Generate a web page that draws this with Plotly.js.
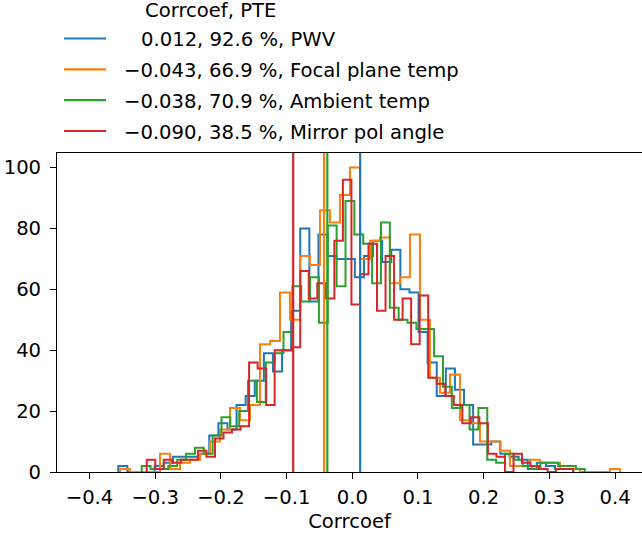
<!DOCTYPE html>
<html><head><meta charset="utf-8">
<script src="https://cdn.plot.ly/plotly-3.0.1.min.js"></script>
<style>html,body{margin:0;padding:0;background:#fff;overflow:hidden}</style>
</head><body><div id="chart" style="width:642px;height:533px"></div>
<script>
// ---- data ----
const seriesNames = ['PWV', 'Focal plane temp', 'Ambient temp', 'Mirror pol angle'];
const corrcoef = [0.012, -0.043, -0.038, -0.090];
const pte = [92.6, 66.9, 70.9, 38.5];
const colors = ['#1f77b4', '#ff7f0e', '#2ca02c', '#d62728'];
// histogram binning (50 bins per series): first edge and bin width
const binStart = [-0.3562, -0.3536, -0.3205, -0.3129];
const binWidth = [0.01385, 0.01522, 0.013486, 0.012983];
const countsPWV = [2,0,0,0,2,3,5,5,5,6,12,16,14,22,25,30,39,33,40,53,80,56,78,71,70,70,64,71,76,69,73,60,59,46,36,25,34,27,22,9,9,10,6,5,4,1,3,2,1,1];
const countsFocal = [1,0,0,0,6,1,3,4,6,10,14,21,17,22,42,43,59,50,71,68,86,82,91,100,70,76,77,62,64,78,50,31,26,32,17,16,10,10,7,2,2,4,3,3,1,1,0,0,0,1];
const countsAmbient = [2,1,1,2,4,6,8,6,12,18,15,20,30,23,36,39,46,61,56,64,49,81,61,89,78,75,62,82,54,50,49,47,47,38,28,21,22,14,21,4,3,6,4,2,1,3,3,2,2,1];
const countsMirror = [4,1,4,3,4,4,7,5,11,13,14,15,36,34,22,40,40,41,66,57,62,57,76,96,55,65,75,53,71,50,57,42,58,31,29,25,22,16,18,16,6,5,0,6,3,2,1,0,1,1];
const allCounts = [countsPWV, countsFocal, countsAmbient, countsMirror];
const xTickVals = [-0.4,-0.3,-0.2,-0.1,0,0.1,0.2,0.3,0.4];
const yTickVals = [0,20,40,60,80,100];

// ---- build step traces ----
const traces = allCounts.map((counts, s) => {
  const edges = counts.map((_, i) => binStart[s] + i * binWidth[s]);
  edges.push(binStart[s] + counts.length * binWidth[s]);
  const xs = [edges[0]].concat(edges);
  const ys = [0].concat(counts).concat([0]);
  return {
    type: 'scatter', mode: 'lines', x: xs, y: ys,
    line: {shape: 'hv', color: colors[s], width: 2},
    hoverinfo: 'skip', showlegend: false
  };
});

// ---- layout geometry (pixels) ----
const W = 642, H = 533, L = 57, R = 0, T = 153, B = 61;
const pw = W - L - R, ph = H - T - B;
const px2x = px => (px - L) / pw;
const py2y = py => (H - B - py) / ph;
const FONT = 'DejaVu Sans, Liberation Sans, sans-serif';
const fs = 19.6;

const shapes = [];
const annotations = [];
// mean lines
corrcoef.forEach((c, s) => {
  shapes.push({type: 'line', xref: 'x', yref: 'paper', x0: c, x1: c, y0: 0, y1: 1,
    line: {color: colors[s], width: 2.2}, layer: 'above'});
});
// legend
const fmt = v => (v < 0 ? '\u2212' : '') + Math.abs(v).toFixed(3);
annotations.push({xref: 'paper', yref: 'paper', x: px2x(143), y: py2y(11), xanchor: 'left', yanchor: 'middle',
  text: 'Corrcoef, PTE', showarrow: false, font: {family: FONT, size: fs, color: '#000'}});
const rowY = [38.5, 69.3, 100.1, 131];
seriesNames.forEach((n, s) => {
  shapes.push({type: 'line', xref: 'paper', yref: 'paper', x0: px2x(64), x1: px2x(106),
    y0: py2y(rowY[s]), y1: py2y(rowY[s]), line: {color: colors[s], width: 2.2}});
  const tx = corrcoef[s] < 0 ? 122 : 138.5;
  annotations.push({xref: 'paper', yref: 'paper', x: px2x(tx), y: py2y(rowY[s] + 1), xanchor: 'left', yanchor: 'middle',
    text: fmt(corrcoef[s]) + ', ' + pte[s].toFixed(1) + ' %, ' + n, showarrow: false,
    font: {family: FONT, size: fs, color: '#000'}});
});

const axisCommon = {
  showgrid: false, zeroline: false, showline: true, linecolor: '#000', linewidth: 1,
  ticks: 'outside', ticklen: 6, tickwidth: 1, tickcolor: '#000',
  tickfont: {family: FONT, size: fs, color: '#000'}
};

const layout = {
  width: W, height: H,
  margin: {l: L, r: R, t: T, b: B, pad: 0},
  paper_bgcolor: '#fff', plot_bgcolor: '#fff',
  font: {family: FONT, size: fs, color: '#000'},
  showlegend: false,
  xaxis: Object.assign({}, axisCommon, {
    range: [-0.4495, 0.441], tickvals: xTickVals, tickformat: '.1f', mirror: true,
    ticklabelstandoff: 1,
    title: {text: 'Corrcoef', font: {family: FONT, size: fs, color: '#000'}, standoff: 6}
  }),
  yaxis: Object.assign({}, axisCommon, {
    range: [0, 104.8], tickvals: yTickVals, ticklabelstandoff: 5
  }),
  shapes: shapes,
  annotations: annotations
};

Plotly.newPlot('chart', traces, layout, {staticPlot: true, displayModeBar: false});
</script></body></html>
